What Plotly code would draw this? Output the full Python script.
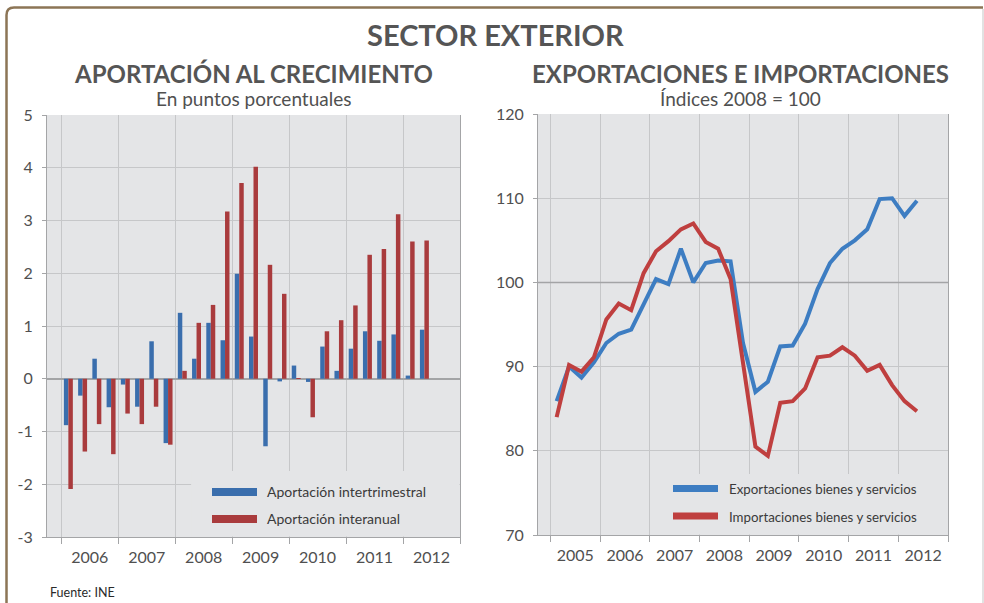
import plotly.graph_objects as go

# ---------------- DATA ----------------
# Left chart: quarters 2006 T1 .. 2012 T2
left_years = [2006]*4 + [2007]*4 + [2008]*4 + [2009]*4 + [2010]*4 + [2011]*4 + [2012]*2
left_quarters = [1, 2, 3, 4]*6 + [1, 2]
aport_intertrimestral = [-0.88, -0.32, 0.38, -0.54, -0.11, -0.53, 0.71, -1.22,
                         1.25, 0.38, 1.06, 0.73, 1.99, 0.80, -1.28, -0.05,
                         0.25, -0.06, 0.61, 0.15, 0.57, 0.90, 0.72, 0.84,
                         0.06, 0.93]
aport_interanual = [-2.09, -1.38, -0.86, -1.43, -0.66, -0.86, -0.53, -1.25,
                    0.15, 1.06, 1.40, 3.17, 3.71, 4.02, 2.16, 1.61,
                    0.01, -0.73, 0.90, 1.11, 1.39, 2.35, 2.46, 3.12,
                    2.60, 2.62]
left_year_labels = ["2006", "2007", "2008", "2009", "2010", "2011", "2012"]
left_y_ticks = [-3, -2, -1, 0, 1, 2, 3, 4, 5]
left_y_labels = ["-3", "-2", "-1", "0", "1", "2", "3", "4", "5"]

# Right chart: quarters 2005 T1 .. 2012 T2
right_years = [2005]*4 + [2006]*4 + [2007]*4 + [2008]*4 + [2009]*4 + [2010]*4 + [2011]*4 + [2012]*2
right_quarters = [1, 2, 3, 4]*7 + [1, 2]
exportaciones = [85.9, 90.0, 88.7, 90.5, 92.8, 93.9, 94.4, 97.4,
                 100.4, 99.8, 104.0, 100.0, 102.3, 102.6, 102.5, 92.8,
                 87.0, 88.2, 92.4, 92.5, 95.1, 99.2, 102.3, 104.0,
                 105.0, 106.3, 109.9, 110.0, 107.9, 109.7]
importaciones = [84.0, 90.2, 89.4, 91.1, 95.6, 97.5, 96.7, 101.1,
                 103.7, 104.9, 106.3, 107.0, 104.8, 104.0, 100.4, 90.5,
                 80.5, 79.4, 85.7, 85.9, 87.4, 91.1, 91.3, 92.3,
                 91.3, 89.5, 90.2, 87.8, 85.9, 84.7]
right_year_labels = ["2005", "2006", "2007", "2008", "2009", "2010", "2011", "2012"]

# ---------------- STYLE ----------------
W, H = 984, 603
FONT = "Lato"
BG = "#E4E5E7"
GRID = "#C6C7C9"
AXIS = "#A4A5A7"
TXT = "#505050"
BLUE_BAR = "#3A6EAD"
RED_BAR = "#A93B3D"
BLUE_LINE = "#3D7DC2"
RED_LINE = "#BF3F3F"


def px(x):
    return x / W


def py(y):
    return 1 - y / H


def qpos(y, q):
    return y + (q - 0.5) / 4


xl = [qpos(y, q) for y, q in zip(left_years, left_quarters)]
xr = [qpos(y, q) for y, q in zip(right_years, right_quarters)]

fig = go.Figure()
fig.add_trace(go.Bar(x=xl, y=aport_intertrimestral, name="Aportación intertrimestral",
                     marker=dict(color=BLUE_BAR, line=dict(width=0)),
                     xaxis="x", yaxis="y", showlegend=False))
fig.add_trace(go.Bar(x=xl, y=aport_interanual, name="Aportación interanual",
                     marker=dict(color=RED_BAR, line=dict(width=0)),
                     xaxis="x", yaxis="y", showlegend=False))
fig.add_trace(go.Scatter(x=xr, y=exportaciones, mode="lines", name="Exportaciones bienes y servicios",
                         line=dict(color=BLUE_LINE, width=4), xaxis="x2", yaxis="y2", showlegend=False))
fig.add_trace(go.Scatter(x=xr, y=importaciones, mode="lines", name="Importaciones bienes y servicios",
                         line=dict(color=RED_LINE, width=4), xaxis="x2", yaxis="y2", showlegend=False))

tickfont = dict(family=FONT, size=16, color=TXT)


def xaxis_cfg(domain, first, last, labels):
    return dict(
        domain=domain, range=[first - 0.25, last + 1], automargin=False,
        tickmode="array",
        tickvals=[first + i + 0.5 for i in range(len(labels))],
        ticktext=labels, ticks="", showgrid=False, zeroline=False,
        tickfont=tickfont, ticklabelstandoff=6,
        showline=True, linecolor=AXIS, linewidth=1,
        minor=dict(tickmode="linear", tick0=first, dtick=1, showgrid=True,
                   gridcolor=GRID, gridwidth=1, ticks="outside", ticklen=6,
                   tickcolor=AXIS),
        fixedrange=True,
    )


def yaxis_cfg(domain, rng, anchor):
    return dict(
        domain=domain, range=rng, anchor=anchor,
        automargin=False,
        showgrid=True, gridcolor=GRID, gridwidth=1,
        ticks="outside", ticklen=4, tickcolor=AXIS,
        tickfont=tickfont, ticklabelstandoff=6,
        showline=True, linecolor=AXIS, linewidth=1, mirror=True,
        fixedrange=True,
    )


LX = [px(47), px(460)]
LY = [py(537), py(115)]
RX = [px(538), px(948)]
RY = [py(535), py(114)]

fig.update_layout(
    width=W, height=H, autosize=False,
    margin=dict(l=0, r=0, t=0, b=0, pad=0, autoexpand=False),
    paper_bgcolor="white", plot_bgcolor=BG,
    barmode="group", bargap=0.37, bargroupgap=0,
    showlegend=False,
    xaxis=dict(**xaxis_cfg(LX, 2006, 2012, left_year_labels), anchor="y"),
    yaxis=dict(**yaxis_cfg(LY, [-3, 5], "x"), tickmode="array",
               tickvals=left_y_ticks, ticktext=left_y_labels, zeroline=True,
               zerolinecolor="#A3A4A6", zerolinewidth=1.5),
    xaxis2=dict(**xaxis_cfg(RX, 2005, 2012, right_year_labels), anchor="y2"),
    yaxis2=dict(**yaxis_cfg(RY, [70, 120], "x2"), tick0=70, dtick=10, zeroline=False),
)

shapes = []
# legend boxes covering gridlines (between gridlines and traces), in axis units
shapes.append(dict(type="rect", xref="x", yref="y", layer="between",
                   x0=2008.28, x1=2012.99, y0=-2.99, y1=-1.75,
                   fillcolor=BG, line=dict(width=0)))
shapes.append(dict(type="rect", xref="x2", yref="y2", layer="between",
                   x0=2007.2, x1=2012.99, y0=70.05, y1=77.25,
                   fillcolor=BG, line=dict(width=0)))
# index 100 reference line
shapes.append(dict(type="line", xref="x2", yref="y2", layer="between",
                   x0=2004.75, x1=2013, y0=100, y1=100, line=dict(color="#A3A4A6", width=1.5)))
# legend samples
shapes.append(dict(type="rect", xref="paper", yref="paper",
                   x0=px(212), x1=px(257), y0=py(496), y1=py(488),
                   fillcolor=BLUE_BAR, line=dict(width=0)))
shapes.append(dict(type="rect", xref="paper", yref="paper",
                   x0=px(212), x1=px(257), y0=py(523), y1=py(515),
                   fillcolor=RED_BAR, line=dict(width=0)))
shapes.append(dict(type="line", xref="paper", yref="paper",
                   x0=px(673), x1=px(718), y0=py(488.5), y1=py(488.5),
                   line=dict(color=BLUE_LINE, width=7)))
shapes.append(dict(type="line", xref="paper", yref="paper",
                   x0=px(673), x1=px(718), y0=py(516), y1=py(516),
                   line=dict(color=RED_LINE, width=7)))
# outer frame
shapes.append(dict(type="path", xref="paper", yref="paper",
                   path=f"M {px(6.5)},{py(610)} L {px(6.5)},{py(15)} Q {px(6.5)},{py(7.5)} {px(14)},{py(7.5)} L {px(983)},{py(7.5)}",
                   line=dict(color="#8C7556", width=2.5)))
shapes.append(dict(type="line", xref="paper", yref="paper",
                   x0=px(983), x1=px(983), y0=py(9), y1=py(603),
                   line=dict(color="#D8D8D8", width=1.5)))
fig.update_layout(shapes=shapes)

ann = []


def text(x, y, s, size, bold=False, anchor="center", color=TXT):
    ann.append(dict(xref="paper", yref="paper", x=px(x), y=py(y), text=(f"<b>{s}</b>" if bold else s),
                    showarrow=False, xanchor=anchor, yanchor="middle",
                    font=dict(family=FONT, size=size, color=color)))


text(496, 35, "SECTOR EXTERIOR", 29, bold=True, color="#555555")
text(253, 73, "APORTACIÓN AL CRECIMIENTO", 24, bold=True, color="#555555")
text(740, 73, "EXPORTACIONES E IMPORTACIONES", 24, bold=True, color="#555555")
text(253, 98, "En puntos porcentuales", 19)
text(740, 98, "Índices 2008 = 100", 19)
text(265, 491, "Aportación intertrimestral", 14, anchor="left", color="#3A3A3A")
text(265, 518, "Aportación interanual", 14, anchor="left", color="#3A3A3A")
text(727, 489, "Exportaciones bienes y servicios", 13.3, anchor="left", color="#3A3A3A")
text(727, 517, "Importaciones bienes y servicios", 13.3, anchor="left", color="#3A3A3A")
text(48, 592, "Fuente: INE", 12.5, anchor="left", color="#2A2A2A")
fig.update_layout(annotations=ann)

fig.write_html("out.html", config={"displayModeBar": False},
               post_script="document.body.style.margin='0';document.body.style.padding='0';")
